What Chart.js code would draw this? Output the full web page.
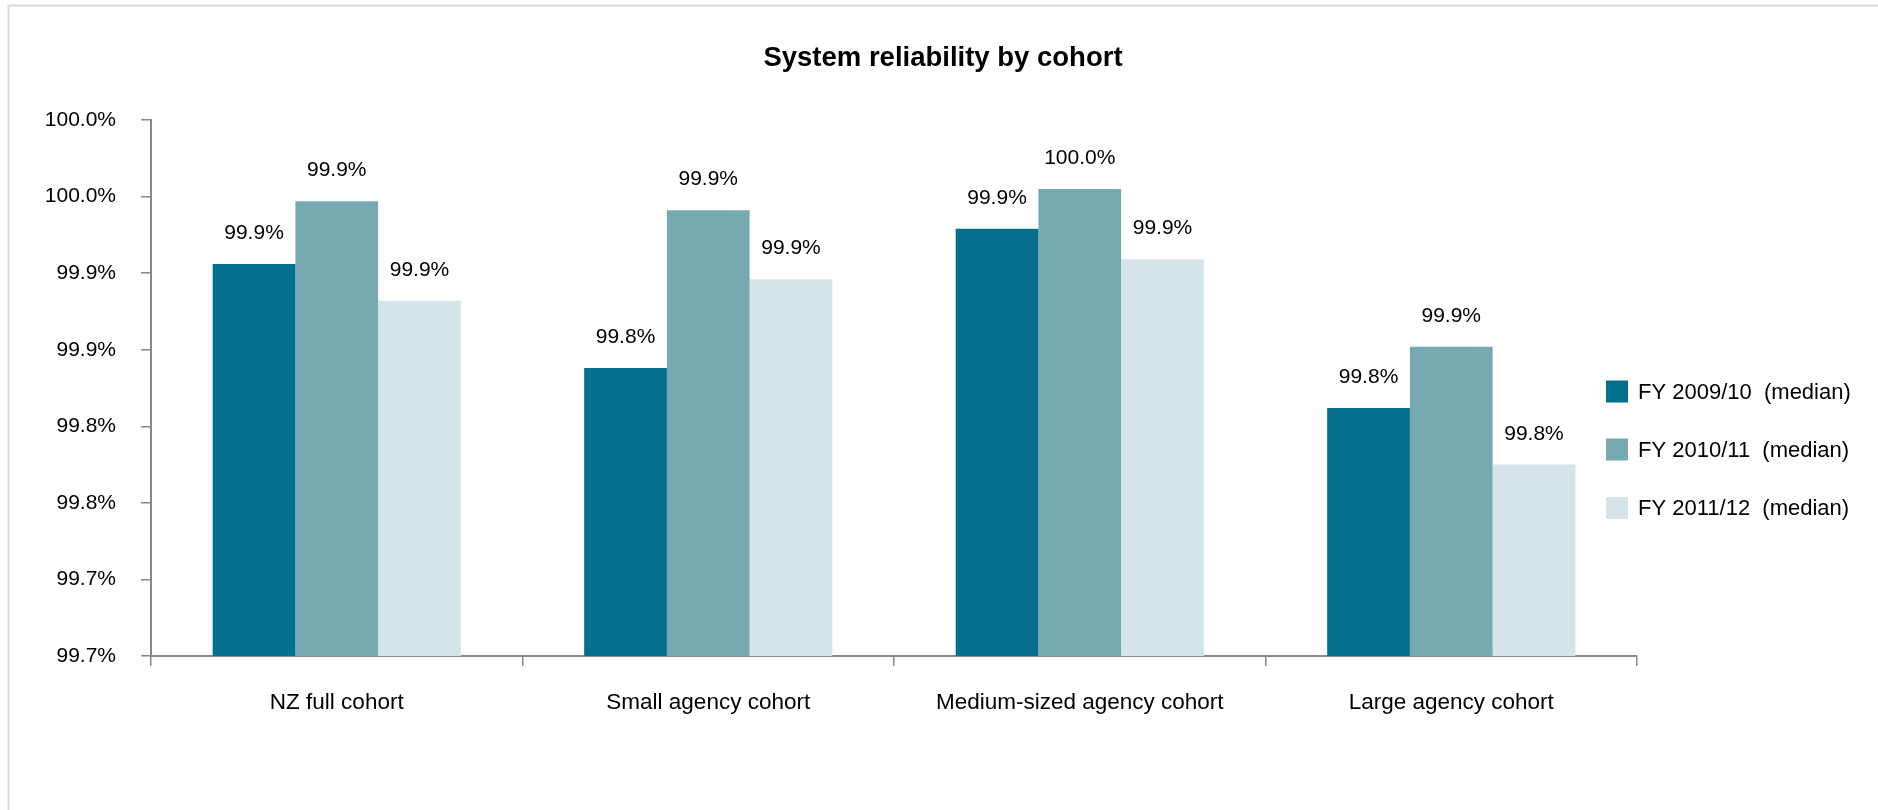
<!DOCTYPE html>
<html>
<head>
<meta charset="utf-8">
<title>System reliability by cohort</title>
<script src="https://cdn.jsdelivr.net/npm/chart.js@4/dist/chart.umd.min.js"></script>
<style>
  html, body { margin: 0; padding: 0; background: #ffffff; overflow: hidden; }
  #wrap { width: 1878px; height: 810px; position: relative; }
  canvas { display: block; }
</style>
</head>
<body>
<div id="wrap"><canvas id="chart" width="1878" height="810"></canvas></div>
<script>
// ---- chart data ----
const chartTitle = 'System reliability by cohort';
const cohorts = ['NZ full cohort', 'Small agency cohort', 'Medium-sized agency cohort', 'Large agency cohort'];
const seriesNames = ['FY 2009/10  (median)', 'FY 2010/11  (median)', 'FY 2011/12  (median)'];
const fy0910 = [99.906, 99.838, 99.929, 99.812];
const fy1011 = [99.947, 99.941, 99.955, 99.852];
const fy1112 = [99.882, 99.896, 99.909, 99.775];
const yTickValues = [99.65, 99.70, 99.75, 99.80, 99.85, 99.90, 99.95, 100.00];
const yTickLabels = ['99.7%', '99.7%', '99.8%', '99.8%', '99.9%', '99.9%', '100.0%', '100.0%'];

// ---- styling ----
const seriesColors = ['#04708D', '#76AAB0', '#D4E4E8'];
const axisGrey = '#878787';
const FONT = "'Liberation Sans', Arial, sans-serif";

// frame, title, legend and value labels
const decorations = {
  id: 'decorations',
  beforeDraw(chart) {
    const ctx = chart.ctx;
    ctx.save();
    ctx.fillStyle = '#ffffff';
    ctx.fillRect(0, 0, chart.width, chart.height);
    ctx.strokeStyle = '#D9D9D9';
    ctx.lineWidth = 2;
    ctx.beginPath();
    ctx.moveTo(8.5, chart.height);
    ctx.lineTo(8.5, 5.5);
    ctx.lineTo(chart.width, 5.5);
    ctx.stroke();
    ctx.restore();
  },
  afterDatasetsDraw(chart) {
    const ctx = chart.ctx;
    ctx.save();
    ctx.font = '21px ' + FONT;
    ctx.fillStyle = '#000000';
    ctx.textAlign = 'center';
    ctx.textBaseline = 'alphabetic';
    chart.data.datasets.forEach((ds, di) => {
      const meta = chart.getDatasetMeta(di);
      meta.data.forEach((bar, i) => {
        const label = ds.data[i].toFixed(1) + '%';
        ctx.fillText(label, bar.x, bar.y - 25);
      });
    });
    ctx.restore();
  },
  afterDraw(chart) {
    const ctx = chart.ctx;
    ctx.save();
    // title
    ctx.font = 'bold 27.5px ' + FONT;
    ctx.fillStyle = '#000000';
    ctx.textAlign = 'center';
    ctx.textBaseline = 'alphabetic';
    ctx.fillText(chartTitle, 943, 66);
    // legend
    const rows = [391.5, 449.5, 508];
    ctx.font = '22px ' + FONT;
    ctx.textAlign = 'left';
    ctx.textBaseline = 'middle';
    chart.data.datasets.forEach((ds, di) => {
      const cy = rows[di];
      ctx.fillStyle = ds.backgroundColor;
      ctx.fillRect(1606, cy - 11, 22, 22);
      ctx.fillStyle = '#000000';
      ctx.fillText(ds.label, 1638, cy + 1);
    });
    ctx.restore();
  }
};

new Chart(document.getElementById('chart'), {
  type: 'bar',
  data: {
    labels: cohorts,
    datasets: [
      { label: seriesNames[0], data: fy0910, backgroundColor: seriesColors[0] },
      { label: seriesNames[1], data: fy1011, backgroundColor: seriesColors[1] },
      { label: seriesNames[2], data: fy1112, backgroundColor: seriesColors[2] }
    ]
  },
  options: {
    responsive: false,
    animation: false,
    devicePixelRatio: 1,
    layout: { padding: { left: 0, right: 241, top: 120, bottom: 0 } },
    datasets: { bar: { categoryPercentage: 0.668, barPercentage: 1.0, borderWidth: 0 } },
    plugins: {
      legend: { display: false },
      title: { display: false },
      tooltip: { enabled: false }
    },
    scales: {
      x: {
        type: 'category',
        offset: true,
        afterFit(scale) { scale.height = 154; },
        grid: { offset: true, drawOnChartArea: false, drawTicks: true, tickLength: 10, color: axisGrey, lineWidth: 1.5 },
        border: { display: true, color: axisGrey, width: 2 },
        ticks: { padding: 23, autoSkip: false, maxRotation: 0, color: '#000000', font: { family: FONT, size: 22.5 } }
      },
      y: {
        min: 99.65,
        max: 100.0,
        afterFit(scale) { scale.width = 151; },
        afterBuildTicks(scale) { scale.ticks = yTickValues.map(v => ({ value: v })); },
        grid: { drawOnChartArea: false, drawTicks: true, tickLength: 10, color: axisGrey, lineWidth: 1.5 },
        border: { display: true, color: axisGrey, width: 2 },
        ticks: {
          padding: 25,
          autoSkip: false,
          color: '#000000',
          font: { family: FONT, size: 21 },
          callback: (value, index) => yTickLabels[index]
        }
      }
    }
  },
  plugins: [decorations]
});
</script>
</body>
</html>
